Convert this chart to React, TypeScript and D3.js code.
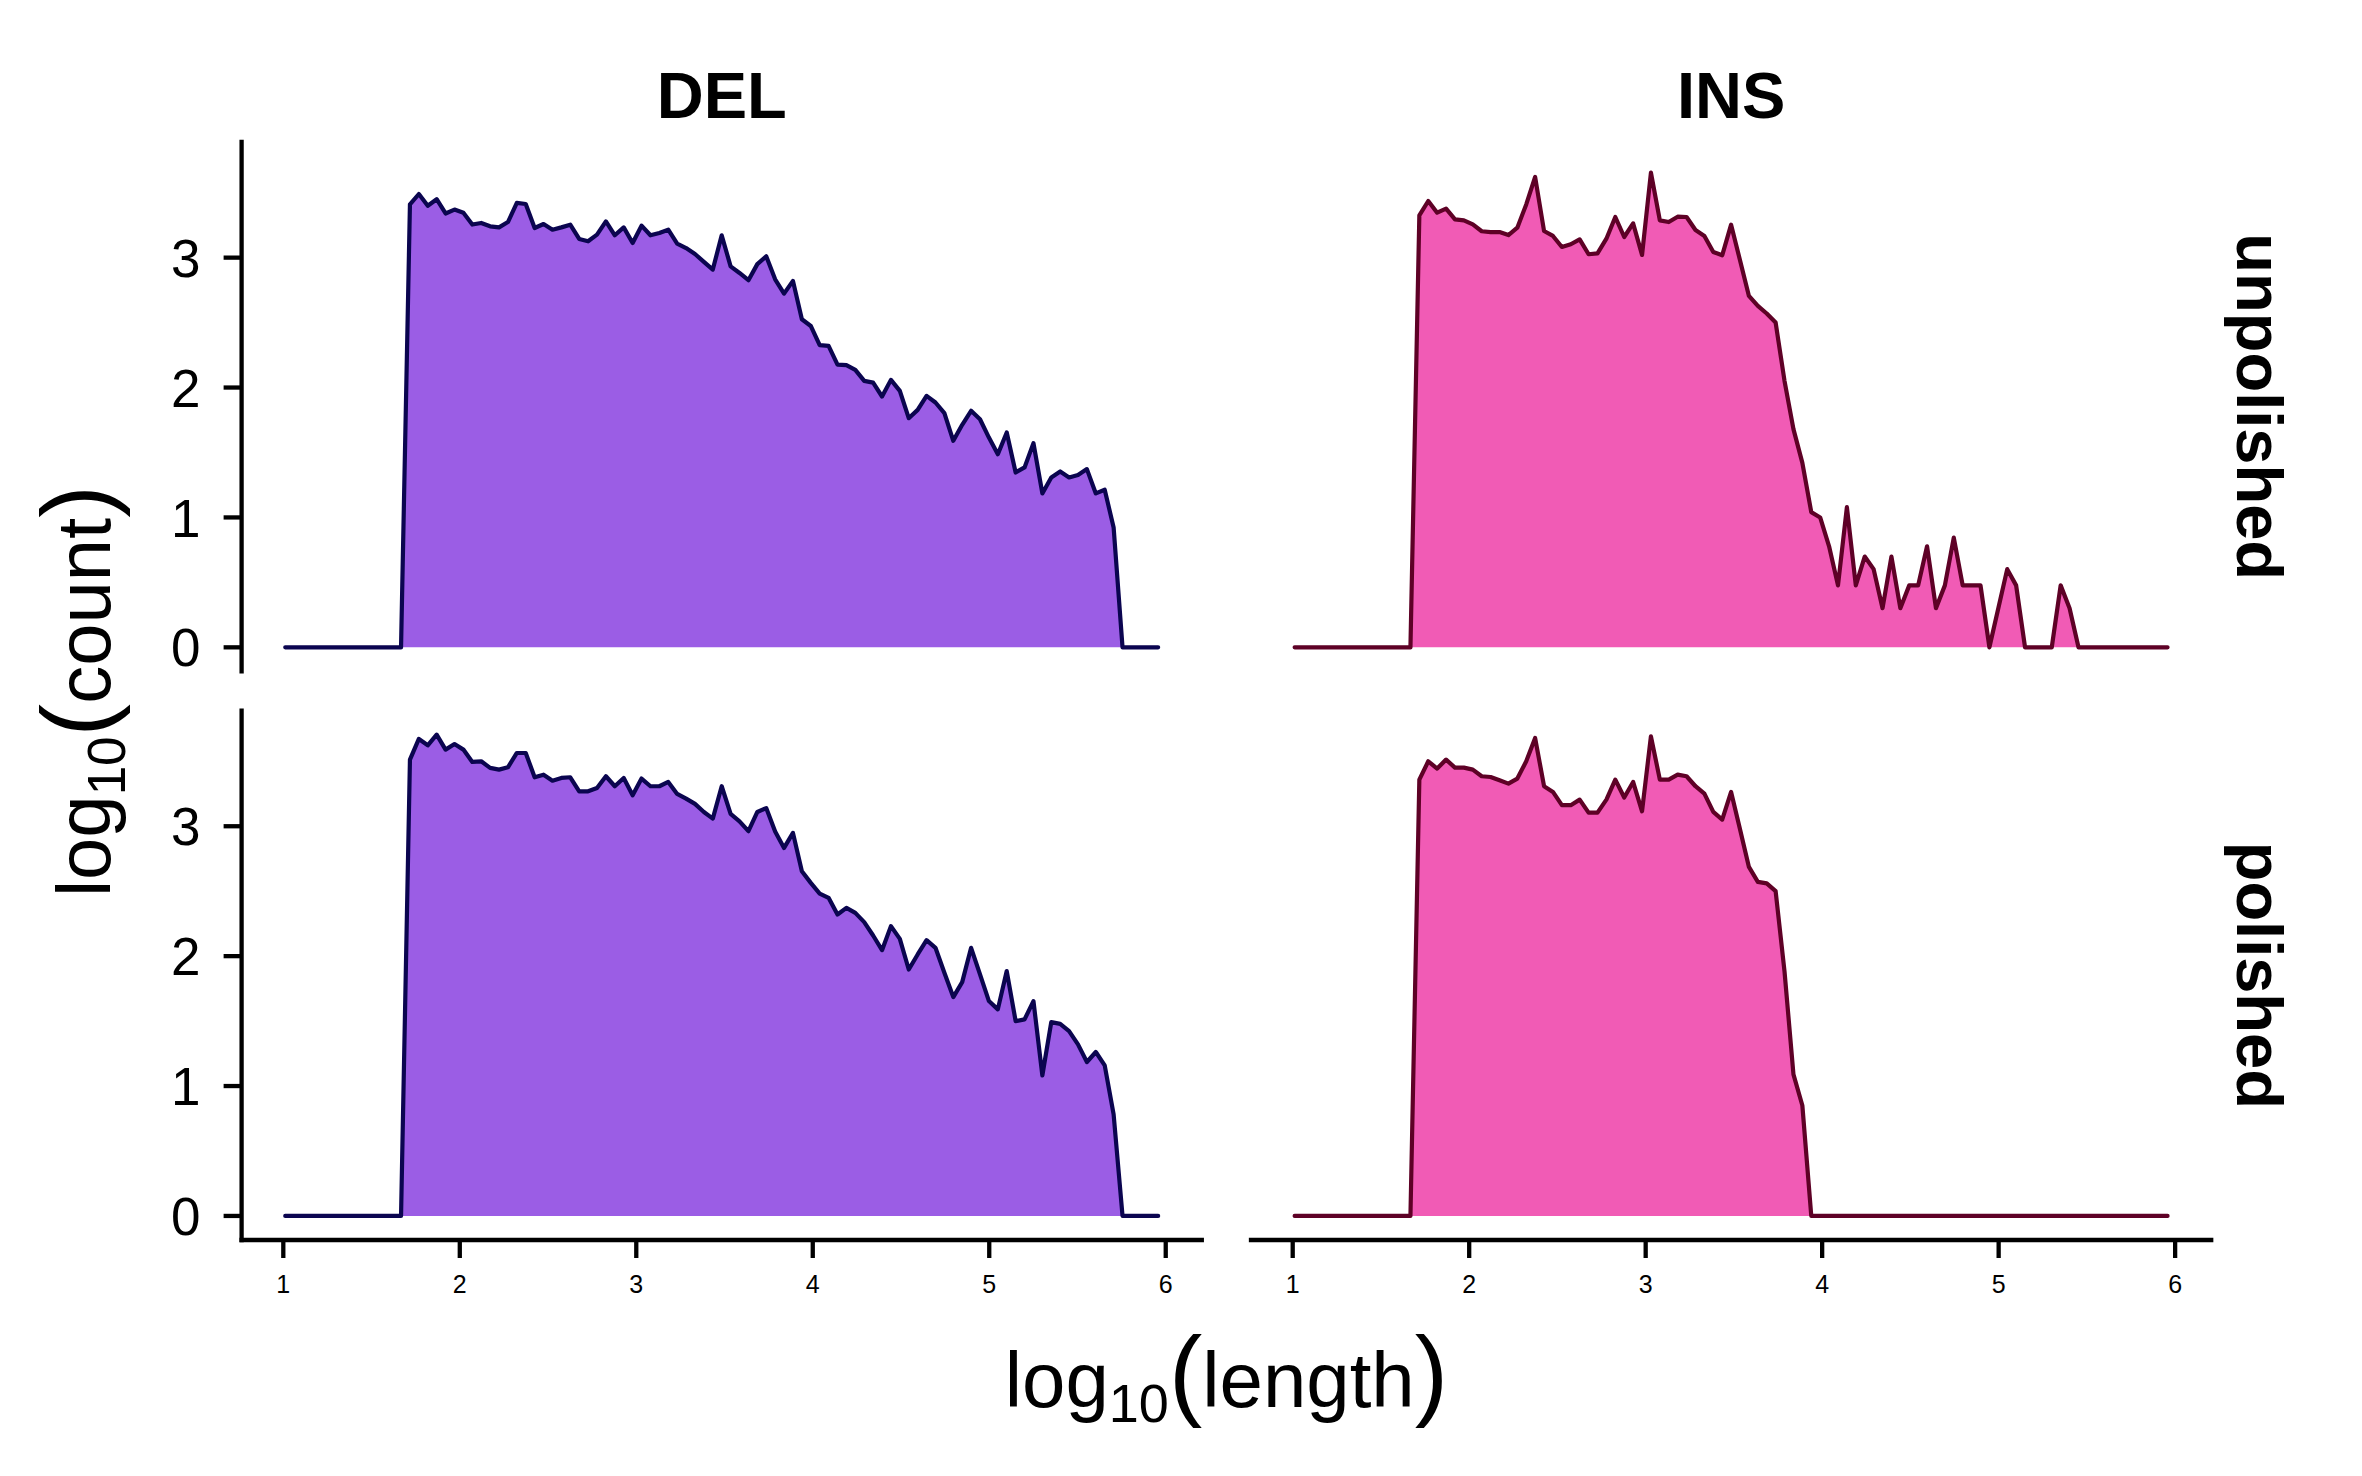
import React from "react";
import * as d3 from "d3";

// ---- data: log10(count) per log10(length) bin (bin centres: BIN_START + k * BIN_WIDTH) ----
const BIN_START = 1.011;
const BIN_WIDTH = 0.05047;

const delUnpolished = [
  0, 0, 0, 0, 0, 0, 0, 0, 0, 0, 0, 0, 0, 0,
  3.41, 3.49, 3.40, 3.45, 3.34, 3.37, 3.345, 3.255, 3.267, 3.241,
  3.233, 3.274, 3.421, 3.413, 3.228, 3.259, 3.215, 3.233, 3.254, 3.144,
  3.126, 3.177, 3.279, 3.172, 3.233, 3.113, 3.246, 3.172, 3.19, 3.215,
  3.108, 3.074, 3.028, 2.967, 2.908, 3.172, 2.933, 2.882, 2.826, 2.95,
  3.01, 2.833, 2.723, 2.821, 2.526, 2.474, 2.326, 2.321, 2.177, 2.172,
  2.136, 2.051, 2.038, 1.931, 2.059, 1.974, 1.764, 1.828, 1.936, 1.885,
  1.803, 1.59, 1.713, 1.821, 1.756, 1.615, 1.487, 1.654, 1.346, 1.385,
  1.572, 1.185, 1.308, 1.354, 1.308, 1.326, 1.372, 1.185, 1.213, 0.923,
  0, 0, 0, 0, 0,
];

const delPolished = [
  0, 0, 0, 0, 0, 0, 0, 0, 0, 0, 0, 0, 0, 0,
  3.513, 3.672, 3.623, 3.705, 3.59, 3.633, 3.59, 3.495, 3.5, 3.449,
  3.436, 3.454, 3.564, 3.564, 3.377, 3.397, 3.351, 3.372, 3.377, 3.269,
  3.269, 3.295, 3.385, 3.308, 3.372, 3.238, 3.367, 3.308, 3.308, 3.341,
  3.249, 3.213, 3.172, 3.11, 3.059, 3.308, 3.095, 3.038, 2.962, 3.11,
  3.14, 2.96, 2.833, 2.949, 2.654, 2.564, 2.482, 2.449, 2.321, 2.372,
  2.333, 2.262, 2.159, 2.046, 2.231, 2.133, 1.897, 2.013, 2.123, 2.064,
  1.872, 1.685, 1.8, 2.064, 1.859, 1.654, 1.59, 1.885, 1.5, 1.513,
  1.654, 1.082, 1.492, 1.479, 1.423, 1.321, 1.185, 1.262, 1.159, 0.782,
  0, 0, 0, 0, 0,
];

const insUnpolished = [
  0, 0, 0, 0, 0, 0, 0, 0, 0, 0, 0, 0, 0, 0,
  3.326, 3.436, 3.346, 3.377, 3.295, 3.287, 3.256, 3.203, 3.197, 3.197,
  3.174, 3.231, 3.41, 3.621, 3.205, 3.167, 3.082, 3.103, 3.141, 3.026,
  3.033, 3.146, 3.313, 3.159, 3.264, 3.021, 3.654, 3.287, 3.274, 3.315,
  3.313, 3.213, 3.167, 3.044, 3.018, 3.254, 2.98, 2.705, 2.628, 2.57,
  2.5, 2.05, 1.68, 1.42, 1.041, 1.0, 0.778, 0.477, 1.079, 0.477,
  0.699, 0.602, 0.301, 0.699, 0.301, 0.477, 0.477, 0.778, 0.301, 0.477,
  0.845, 0.477, 0.477, 0.477, 0, 0.301, 0.602, 0.477, 0, 0,
  0, 0, 0.477, 0.301, 0, 0, 0, 0, 0, 0,
  0, 0, 0, 0, 0,
];

const insPolished = [
  0, 0, 0, 0, 0, 0, 0, 0, 0, 0, 0, 0, 0, 0,
  3.359, 3.5, 3.444, 3.513, 3.451, 3.451, 3.436, 3.385, 3.379, 3.354,
  3.328, 3.367, 3.5, 3.679, 3.308, 3.264, 3.162, 3.162, 3.205, 3.105,
  3.105, 3.205, 3.359, 3.221, 3.341, 3.115, 3.692, 3.359, 3.359, 3.397,
  3.385, 3.308, 3.251, 3.11, 3.051, 3.264, 2.977, 2.687, 2.572, 2.56,
  2.5, 1.88, 1.09, 0.85, 0, 0, 0, 0, 0, 0,
  0, 0, 0, 0, 0, 0, 0, 0, 0, 0,
  0, 0, 0, 0, 0, 0, 0, 0, 0, 0,
  0, 0, 0, 0, 0, 0, 0, 0, 0, 0,
  0, 0, 0, 0, 0,
];

const svTypes = ["DEL", "INS"];
const assemblies = ["unpolished", "polished"];
const xTicks = [1, 2, 3, 4, 5, 6];
const yTicks = [0, 1, 2, 3];

const seriesByPanel: Record<string, number[]> = {
  "DEL|unpolished": delUnpolished,
  "DEL|polished": delPolished,
  "INS|unpolished": insUnpolished,
  "INS|polished": insPolished,
};

// ---- layout / style ----
const W = 2362;
const H = 1476;
const FONT = "'Liberation Sans', Arial, Helvetica, sans-serif";
const fills: Record<string, string> = { DEL: "#9B5DE5", INS: "#F15BB5" };
const strokes: Record<string, string> = { DEL: "#0B0550", INS: "#5E0126" };
const colRanges = [
  [241.6, 1201.8],
  [1251, 2211.2],
];
const rowRanges = [
  [142, 671.4],
  [710.6, 1240],
];

const xAt = (k: number) => BIN_START + k * BIN_WIDTH;
const nBins = delUnpolished.length;
const xMin = xAt(0);
const xMax = xAt(nBins - 1);
const xPad = (xMax - xMin) * 0.05;
const yMaxData = d3.max([delUnpolished, delPolished, insUnpolished, insPolished].flat()) as number;
const yPad = yMaxData * 0.05;

export default function App() {
  const panels: React.ReactNode[] = [];

  svTypes.forEach((sv, ci) => {
    const x = d3
      .scaleLinear()
      .domain([xMin - xPad, xMax + xPad])
      .range(colRanges[ci]);
    assemblies.forEach((asm, ri) => {
      const y = d3
        .scaleLinear()
        .domain([-yPad, yMaxData + yPad])
        .range([rowRanges[ri][1], rowRanges[ri][0]]);
      const vals = seriesByPanel[`${sv}|${asm}`];
      const pts: [number, number][] = vals.map((v, k) => [xAt(k), v]);
      const area = d3
        .area<[number, number]>()
        .x((d) => x(d[0]))
        .y0(y(0))
        .y1((d) => y(d[1]));
      const line = d3
        .line<[number, number]>()
        .x((d) => x(d[0]))
        .y((d) => y(d[1]));
      const [l, r] = colRanges[ci];
      const [t, b] = rowRanges[ri];
      panels.push(
        <g key={`${sv}-${asm}`}>
          <path d={area(pts) || ""} fill={fills[sv]} stroke="none" />
          <path
            d={line(pts) || ""}
            fill="none"
            stroke={strokes[sv]}
            strokeWidth={4.2}
            strokeLinejoin="round"
            strokeLinecap="round"
          />
          {ci === 0 && (
            <g>
              <line x1={l} x2={l} y1={t} y2={b} stroke="#000" strokeWidth={4.3} strokeLinecap="square" />
              {yTicks.map((tv) => (
                <g key={tv}>
                  <line x1={l - 18} x2={l} y1={y(tv)} y2={y(tv)} stroke="#000" strokeWidth={4.3} />
                  <text
                    x={l - 41}
                    y={y(tv)}
                    dy="0.36em"
                    textAnchor="end"
                    fontSize={53}
                    fontFamily={FONT}
                    fill="#000"
                  >
                    {tv}
                  </text>
                </g>
              ))}
            </g>
          )}
          {ri === assemblies.length - 1 && (
            <g>
              <line x1={l} x2={r} y1={b} y2={b} stroke="#000" strokeWidth={4.3} strokeLinecap="square" />
              {xTicks.map((tv) => (
                <g key={tv}>
                  <line x1={x(tv)} x2={x(tv)} y1={b} y2={b + 18} stroke="#000" strokeWidth={4.3} />
                  <text
                    x={x(tv)}
                    y={b + 53}
                    textAnchor="middle"
                    fontSize={25}
                    fontFamily={FONT}
                    fill="#000"
                  >
                    {tv}
                  </text>
                </g>
              ))}
            </g>
          )}
        </g>
      );
    });
  });

  const xTitleX = (colRanges[0][0] + colRanges[1][1]) / 2;
  const yTitleY = (rowRanges[0][0] + rowRanges[1][1]) / 2;

  return (
    <div style={{ position: "absolute", left: 0, top: 0, width: W, height: H, background: "#fff" }}>
      <svg width={W} height={H} viewBox={`0 0 ${W} ${H}`} style={{ display: "block" }}>
        <rect x={0} y={0} width={W} height={H} fill="#fff" />
        {panels}
        {svTypes.map((sv, ci) => (
          <text
            key={sv}
            x={(colRanges[ci][0] + colRanges[ci][1]) / 2}
            y={95}
            dy="0.36em"
            textAnchor="middle"
            fontSize={65}
            fontWeight="bold"
            fontFamily={FONT}
            fill="#000"
          >
            {sv}
          </text>
        ))}
        {assemblies.map((asm, ri) => {
          const cy = (rowRanges[ri][0] + rowRanges[ri][1]) / 2;
          return (
            <text
              key={asm}
              transform={`translate(2260, ${cy}) rotate(90)`}
              dy="0.36em"
              textAnchor="middle"
              fontSize={65}
              fontWeight="bold"
              fontFamily={FONT}
              fill="#000"
            >
              {asm}
            </text>
          );
        })}
        <text x={xTitleX} y={1407} textAnchor="middle" fontSize={78} fontFamily={FONT} fill="#000">
          <tspan>log</tspan>
          <tspan fontSize={54} dy={15}>10</tspan>
          <tspan fontSize={100} dy={-15}>(</tspan>
          <tspan>length</tspan>
          <tspan fontSize={100}>)</tspan>
        </text>
        <text
          transform={`translate(110, ${yTitleY}) rotate(-90)`}
          textAnchor="middle"
          fontSize={76}
          fontFamily={FONT}
          fill="#000"
        >
          <tspan>log</tspan>
          <tspan fontSize={53} dy={15}>10</tspan>
          <tspan fontSize={98} dy={-15}>(</tspan>
          <tspan>count</tspan>
          <tspan fontSize={98}>)</tspan>
        </text>
      </svg>
    </div>
  );
}
